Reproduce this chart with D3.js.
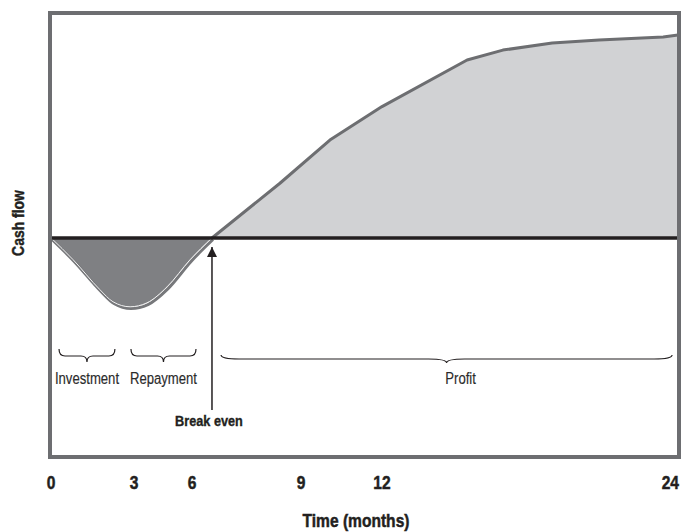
<!DOCTYPE html>
<html>
<head>
<meta charset="utf-8">
<script src="https://cdn.jsdelivr.net/npm/d3@7"></script>
<style>
  html, body { margin: 0; padding: 0; background: #fff; }
  svg { display: block; }
  text { font-family: 'Liberation Sans', Arial, Helvetica, sans-serif; }
</style>
</head>
<body>
<svg id="chart" width="683" height="532"></svg>
<script>
// Tick months along the time axis
const tickMonths = [0, 3, 6, 9, 12, 24];
const tickLabels = ["0", "3", "6", "9", "12", "24"];

// Investment dip: months and cash flow (negative)
const dipMonths = [0, 0.8, 1.77, 2.24, 2.86, 3.67, 4.71, 5.9, 6.55];
const dipValues = [0, -1.0, -2.37, -2.92, -3.15, -2.97, -2.24, -1.0, 0];

// Profit growth after break even
const riseMonths = [6.55, 8.42, 10.07, 12.0, 15.45, 16.9, 18.9, 20.8, 23.4, 24];
const riseValues = [0, 2.5, 4.47, 6.0, 8.13, 8.58, 8.9, 9.04, 9.18, 9.27];

const breakEven = 6.55;

// Phase annotations (month ranges)
const phaseNames = ["Investment", "Repayment", "Profit"];
const phaseStart = [0.29, 2.89, 6.8];
const phaseEnd = [2.31, 6.11, 23.76];

const svg = d3.select("#chart");
const frame = { left: 50, right: 679, top: 13, bottom: 457 };
const narrow = 0.82; // horizontal squeeze for a condensed look

// Time axis is stretched unevenly between the marked months
const x = d3.scaleLinear()
  .domain(tickMonths)
  .range([51, 134, 192, 301, 382, 678]);

const y = d3.scaleLinear()
  .domain([-10, 10])
  .range([457, 19]);

const grey = "#6d6e71";
const ink = "#231f20";

// Condensed text helper
function label(px, py, str, opts) {
  const o = Object.assign({ size: 16, weight: "normal", anchor: "middle", fill: ink, rotate: 0, heavy: 0 }, opts);
  return svg.append("text")
    .attr("transform", `translate(${px},${py}) rotate(${o.rotate}) scale(${narrow},1)`)
    .attr("text-anchor", o.anchor)
    .attr("font-size", o.size)
    .attr("font-weight", o.weight)
    .attr("fill", o.fill)
    .attr("stroke", o.heavy ? o.fill : "none")
    .attr("stroke-width", o.heavy)
    .text(str);
}

const riseData = riseMonths.map((m, i) => ({ m, v: riseValues[i] }));
const dipData = dipMonths.map((m, i) => ({ m, v: dipValues[i] }));

// Light fill for the profit area
svg.append("path")
  .datum(riseData)
  .attr("d", d3.area().x(d => x(d.m)).y0(y(0)).y1(d => y(d.v)))
  .attr("fill", "#d1d2d4");

// Dark fill for the investment dip
svg.append("path")
  .datum(dipData)
  .attr("d", d3.area().curve(d3.curveMonotoneX).x(d => x(d.m)).y0(y(0)).y1(d => y(d.v)))
  .attr("fill", "#7f8083");

// Outline of the dip, with a thin light edge inside
const dipLine = d3.line().curve(d3.curveMonotoneX).x(d => x(d.m)).y(d => y(d.v));
svg.append("path")
  .datum(dipData)
  .attr("d", dipLine)
  .attr("fill", "none")
  .attr("stroke", "#77787b")
  .attr("stroke-width", 3)
  .attr("transform", "translate(1,1.5)");
svg.append("path")
  .datum(dipData)
  .attr("d", dipLine)
  .attr("fill", "none")
  .attr("stroke", "#f2f2f2")
  .attr("stroke-width", 1)
  .attr("transform", "translate(0,-0.2)");

svg.append("path")
  .datum(riseData)
  .attr("d", d3.line().x(d => x(d.m)).y(d => y(d.v)))
  .attr("fill", "none")
  .attr("stroke", grey)
  .attr("stroke-width", 3)
  .attr("stroke-linejoin", "round");

// Zero cash-flow line
svg.append("line")
  .attr("x1", x(0)).attr("x2", x(24))
  .attr("y1", y(0)).attr("y2", y(0))
  .attr("stroke", ink)
  .attr("stroke-width", 3.5);

// Plot frame
svg.append("rect")
  .attr("x", frame.left).attr("y", frame.top)
  .attr("width", frame.right - frame.left)
  .attr("height", frame.bottom - frame.top)
  .attr("fill", "none")
  .attr("stroke", grey)
  .attr("stroke-width", 4);

// Break-even arrow
svg.append("defs").append("marker")
  .attr("id", "head")
  .attr("viewBox", "0 0 10 10")
  .attr("refX", 10).attr("refY", 5)
  .attr("markerWidth", 10).attr("markerHeight", 10)
  .attr("markerUnits", "userSpaceOnUse")
  .attr("orient", "auto")
  .append("path")
  .attr("d", "M0,0 L10,5 L0,10 Z")
  .attr("fill", ink);

svg.append("line")
  .attr("x1", x(breakEven)).attr("x2", x(breakEven))
  .attr("y1", 410).attr("y2", 247)
  .attr("stroke", ink)
  .attr("stroke-width", 1.5)
  .attr("marker-end", "url(#head)");

label(x(breakEven) - 3, 426, "Break even", { size: 15.5, weight: "bold", heavy: 0.4 });

// Curly braces under each phase
function bracePath(x1, x2, flat) {
  const mid = (x1 + x2) / 2;
  const y0 = flat ? 355 : 349;
  const y1 = flat ? 359 : 356;
  const y2 = flat ? 363 : 362;
  const r = flat ? 18 : 6;
  return `M${x1},${y0} Q${x1},${y1} ${x1 + r},${y1} L${mid - r},${y1} Q${mid},${y1} ${mid},${y2}` +
         ` Q${mid},${y1} ${mid + r},${y1} L${x2 - r},${y1} Q${x2},${y1} ${x2},${y0}`;
}
const labelShift = { Profit: 14 };

phaseNames.forEach((name, i) => {
  const x1 = x(phaseStart[i]);
  const x2 = x(phaseEnd[i]);
  const flat = (x2 - x1) > 150;
  svg.append("path")
    .attr("d", bracePath(x1, x2, flat))
    .attr("fill", "none")
    .attr("stroke", ink)
    .attr("stroke-width", 1.2);
  label((x1 + x2) / 2 + (labelShift[name] || 0), 384, name, { size: 16, fill: "#2b2b2b", heavy: 0.15 });
});

// Month labels
tickMonths.forEach((d, i) => {
  const last = i === tickMonths.length - 1;
  label(last ? x(d) + 1 : x(d), 489, tickLabels[i],
        { size: 19, weight: "bold", anchor: last ? "end" : "middle", heavy: 0.5 });
});

// Axis titles
label(356, 527, "Time (months)", { size: 19, weight: "bold", heavy: 0.5 });
label(24, 223, "Cash flow", { size: 17, weight: "bold", rotate: -90, heavy: 0.45 });
</script>
</body>
</html>
